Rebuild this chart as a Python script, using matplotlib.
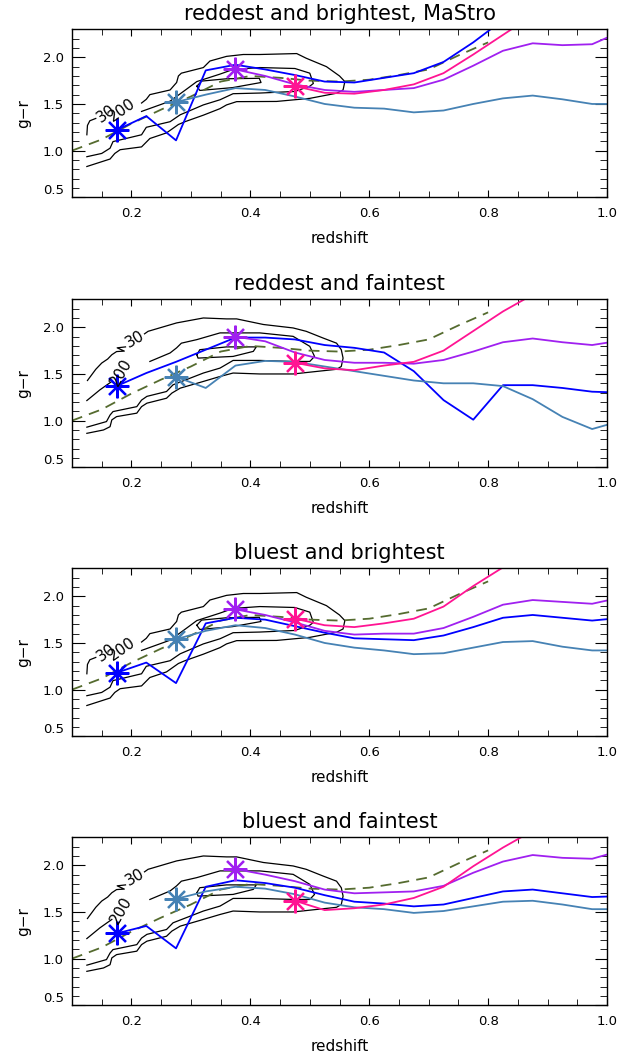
import matplotlib
matplotlib.use("Agg")
import matplotlib.pyplot as plt
from matplotlib.ticker import MultipleLocator, FormatStrFormatter

# redshift bin centres shared by all colour tracks
Z_BINS = [0.175, 0.225, 0.275, 0.325, 0.375, 0.425, 0.475, 0.525, 0.575,
          0.625, 0.675, 0.725, 0.775, 0.825, 0.875, 0.925, 0.975, 1.025]

# model track (dashed), same in every panel
DASH_Z = [0.10, 0.15, 0.20, 0.25, 0.30, 0.35, 0.40, 0.45, 0.50, 0.55, 0.60,
          0.65, 0.70, 0.75, 0.80]
DASH_GR = [1.00, 1.12, 1.29, 1.44, 1.58, 1.74, 1.80, 1.78, 1.75, 1.74, 1.76,
           1.81, 1.87, 2.02, 2.16]

TITLES = ["reddest and brightest, MaStro", "reddest and faintest",
          "bluest and brightest", "bluest and faintest"]

# g-r tracks; blue starts at z=0.175, steel at 0.275, purple at 0.375, pink at 0.475
RB_BLUE = [1.22, 1.37, 1.11, 1.86, 1.92, 1.87, 1.81, 1.74, 1.73, 1.78, 1.83, 1.95, 2.16, 2.40]
RB_STEEL = [1.52, 1.60, 1.67, 1.65, 1.58, 1.50, 1.46, 1.45, 1.41, 1.43, 1.50, 1.56, 1.59, 1.55, 1.50, 1.50]
RB_PURPLE = [1.87, 1.80, 1.71, 1.65, 1.63, 1.65, 1.67, 1.76, 1.91, 2.07, 2.15, 2.13, 2.14, 2.28]
RB_PINK = [1.69, 1.62, 1.61, 1.65, 1.71, 1.83, 2.03, 2.24, 2.45]

RF_BLUE = [1.37, 1.51, 1.63, 1.76, 1.89, 1.89, 1.87, 1.81, 1.78, 1.73, 1.53, 1.22, 1.01, 1.38, 1.38, 1.35, 1.31, 1.30]
RF_STEEL = [1.47, 1.35, 1.59, 1.64, 1.63, 1.58, 1.53, 1.48, 1.43, 1.40, 1.40, 1.37, 1.23, 1.04, 0.91, 1.00]
RF_PURPLE = [1.90, 1.85, 1.73, 1.65, 1.62, 1.62, 1.61, 1.65, 1.74, 1.84, 1.88, 1.84, 1.81, 1.86]
RF_PINK = [1.62, 1.56, 1.54, 1.59, 1.63, 1.75, 1.96, 2.17, 2.35]

BB_BLUE = [1.18, 1.29, 1.07, 1.71, 1.77, 1.75, 1.68, 1.61, 1.55, 1.54, 1.53, 1.58, 1.67, 1.77, 1.80, 1.77, 1.74, 1.77]
BB_STEEL = [1.54, 1.63, 1.69, 1.66, 1.59, 1.50, 1.45, 1.42, 1.38, 1.39, 1.45, 1.51, 1.52, 1.46, 1.42, 1.42]
BB_PURPLE = [1.86, 1.80, 1.72, 1.63, 1.59, 1.60, 1.60, 1.66, 1.78, 1.91, 1.96, 1.94, 1.92, 1.99]
BB_PINK = [1.76, 1.69, 1.67, 1.71, 1.76, 1.89, 2.11, 2.31, 2.50]

BF_BLUE = [1.27, 1.35, 1.11, 1.77, 1.84, 1.81, 1.76, 1.68, 1.61, 1.59, 1.56, 1.58, 1.65, 1.72, 1.74, 1.70, 1.66, 1.67]
BF_STEEL = [1.64, 1.72, 1.77, 1.75, 1.69, 1.60, 1.55, 1.53, 1.49, 1.51, 1.56, 1.61, 1.62, 1.58, 1.53, 1.53]
BF_PURPLE = [1.96, 1.90, 1.83, 1.74, 1.70, 1.71, 1.72, 1.78, 1.92, 2.04, 2.11, 2.08, 2.07, 2.16]
BF_PINK = [1.62, 1.52, 1.54, 1.58, 1.65, 1.77, 1.99, 2.19, 2.37]

# density contours of the parent sample, (redshift, g-r) vertices
BRIGHT_OUTER = [(0.125, 0.83), (0.164, 0.91), (0.172, 0.97), (0.181, 1.01), (0.217, 1.04),
                (0.231, 1.13), (0.259, 1.19), (0.279, 1.28), (0.29, 1.31), (0.321, 1.38),
                (0.349, 1.45), (0.36, 1.49), (0.377, 1.525), (0.444, 1.527), (0.50, 1.56),
                (0.545, 1.615), (0.556, 1.65), (0.559, 1.74), (0.55, 1.80), (0.528, 1.90),
                (0.494, 1.99), (0.478, 2.04), (0.416, 2.03), (0.388, 2.03), (0.36, 2.01),
                (0.332, 1.96), (0.321, 1.89), (0.284, 1.83), (0.279, 1.80), (0.276, 1.73),
                (0.265, 1.65), (0.231, 1.60), (0.225, 1.55), (0.217, 1.51)]
BRIGHT_MIDDLE = [(0.125, 0.935), (0.15, 0.97), (0.164, 1.026), (0.169, 1.097), (0.181, 1.115),
                 (0.217, 1.17), (0.225, 1.25), (0.265, 1.31), (0.282, 1.384), (0.321, 1.49),
                 (0.349, 1.545), (0.371, 1.61), (0.416, 1.617), (0.475, 1.634), (0.50, 1.69),
                 (0.506, 1.72), (0.50, 1.83), (0.475, 1.88), (0.416, 1.89), (0.371, 1.87),
                 (0.349, 1.82), (0.31, 1.74), (0.293, 1.66), (0.265, 1.53), (0.217, 1.42)]
BRIGHT_INNER = [(0.31, 1.69), (0.318, 1.745), (0.36, 1.77), (0.415, 1.775), (0.418, 1.73),
                (0.37, 1.675), (0.315, 1.645), (0.31, 1.69)]
BRIGHT_LEFT = [(0.125, 1.17), (0.126, 1.27), (0.13, 1.32), (0.14, 1.345)]
BRIGHT_LABELS = [("30", 0.158, 1.40, 35), ("200", 0.185, 1.43, 35)]

FAINT_OUTER = [(0.125, 0.864), (0.153, 0.90), (0.164, 0.935), (0.167, 1.008), (0.175, 1.043),
               (0.209, 1.08), (0.217, 1.15), (0.226, 1.187), (0.259, 1.24), (0.268, 1.295),
               (0.282, 1.348), (0.321, 1.42), (0.349, 1.473), (0.371, 1.51), (0.416, 1.50),
               (0.472, 1.50), (0.545, 1.55), (0.553, 1.58), (0.556, 1.67), (0.553, 1.76),
               (0.545, 1.83), (0.522, 1.886), (0.494, 1.957), (0.472, 1.993), (0.422, 2.03),
               (0.377, 2.09), (0.36, 2.09), (0.321, 2.10), (0.276, 2.047), (0.228, 1.957),
               (0.222, 1.93)]
FAINT_OUTER_LEFT = [(0.126, 1.43), (0.14, 1.55), (0.150, 1.617), (0.16, 1.66), (0.167, 1.706),
                    (0.175, 1.74), (0.188, 1.745), (0.176, 1.78), (0.19, 1.79)]
FAINT_MIDDLE = [(0.125, 0.93), (0.158, 0.99), (0.164, 1.06), (0.169, 1.097), (0.209, 1.15),
                (0.217, 1.22), (0.226, 1.26), (0.259, 1.312), (0.270, 1.384), (0.321, 1.51),
                (0.349, 1.563), (0.371, 1.645), (0.416, 1.645), (0.472, 1.634), (0.50, 1.634),
                (0.508, 1.688), (0.50, 1.796), (0.472, 1.903), (0.416, 1.94), (0.349, 1.94),
                (0.31, 1.868), (0.284, 1.83), (0.276, 1.78), (0.265, 1.725), (0.231, 1.634)]
FAINT_MIDDLE_LEFT = [(0.125, 1.215), (0.147, 1.33), (0.167, 1.42)]
FAINT_INNER = [(0.31, 1.706), (0.315, 1.76), (0.36, 1.79), (0.41, 1.79), (0.405, 1.742),
               (0.371, 1.688), (0.312, 1.67), (0.31, 1.706)]
FAINT_LABELS = [("30", 0.206, 1.87, 30), ("200", 0.183, 1.515, 60)]

BRIGHT_PATHS = [BRIGHT_OUTER, BRIGHT_MIDDLE, BRIGHT_INNER, BRIGHT_LEFT]
FAINT_PATHS = [FAINT_OUTER, FAINT_OUTER_LEFT, FAINT_MIDDLE, FAINT_MIDDLE_LEFT, FAINT_INNER]

PANELS = [
    (BRIGHT_PATHS, BRIGHT_LABELS, [RB_BLUE, RB_STEEL, RB_PURPLE, RB_PINK]),
    (FAINT_PATHS, FAINT_LABELS, [RF_BLUE, RF_STEEL, RF_PURPLE, RF_PINK]),
    (BRIGHT_PATHS, BRIGHT_LABELS, [BB_BLUE, BB_STEEL, BB_PURPLE, BB_PINK]),
    (FAINT_PATHS, FAINT_LABELS, [BF_BLUE, BF_STEEL, BF_PURPLE, BF_PINK]),
]

COLORS = ["#0000ff", "#4682b4", "#a020f0", "#ff1493"]
START_IDX = [0, 2, 4, 6]

fig = plt.figure(figsize=(6.42, 10.62), dpi=100)

tops = [29.3, 299.3, 568.3, 837.3]
for k, (paths, labels, series) in enumerate(PANELS):
    bottom = 1 - (tops[k] + 168) / 1062
    ax = fig.add_axes([72 / 642, bottom, 535 / 642, 168 / 1062])

    for path in paths:
        ax.plot([p[0] for p in path], [p[1] for p in path], color="black", lw=0.9)
    for txt, zx, gy, rot in labels:
        ax.text(zx, gy, txt, rotation=rot, fontsize=11, ha="center", va="center",
                rotation_mode="anchor")

    ax.plot(DASH_Z, DASH_GR, color="#556b2f", lw=1.3, dashes=(6, 4))

    for vals, col, i0 in zip(series, COLORS, START_IDX):
        zs = Z_BINS[i0:i0 + len(vals)]
        ax.plot(zs, vals, color=col, lw=1.3)
        ax.plot(zs[0], vals[0], marker=(8, 2, 0), ms=17, mew=1.6, color=col,
                linestyle="none")

    ax.set_xlim(0.1, 1.0)
    ax.set_ylim(0.5, 2.3)
    ax.xaxis.set_major_locator(MultipleLocator(0.2))
    ax.xaxis.set_minor_locator(MultipleLocator(0.05))
    ax.yaxis.set_major_locator(MultipleLocator(0.5))
    ax.yaxis.set_minor_locator(MultipleLocator(0.1))
    ax.xaxis.set_major_formatter(FormatStrFormatter("%.1f"))
    ax.yaxis.set_major_formatter(FormatStrFormatter("%.1f"))
    ax.tick_params(which="both", direction="in", top=True, right=True, labelsize=9.5)
    ax.tick_params(axis="y", which="major", length=9, pad=6)
    ax.tick_params(axis="y", which="minor", length=5)
    ax.tick_params(axis="x", which="major", length=5, pad=7)
    ax.tick_params(axis="x", which="minor", length=4)
    for s in ax.spines.values():
        s.set_linewidth(1.0)
    for lab in ax.get_yticklabels():
        if lab.get_text() == "0.5":
            lab.set_va("bottom")

    ax.set_title(TITLES[k], fontsize=15, pad=7)
    ax.set_xlabel("redshift", fontsize=11, labelpad=8)
    ax.set_ylabel("g\u2212r", fontsize=11, labelpad=8)

fig.savefig("out.png", dpi=100)
